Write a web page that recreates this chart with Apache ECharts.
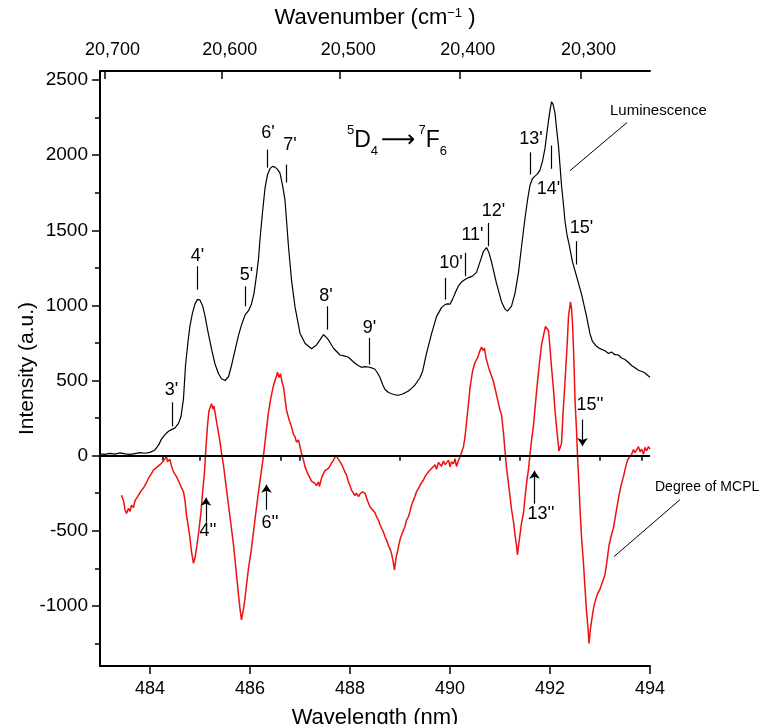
<!DOCTYPE html>
<html>
<head>
<meta charset="utf-8">
<script src="https://cdn.jsdelivr.net/npm/echarts@6/dist/echarts.min.js"></script>
<style>
  html, body { margin: 0; padding: 0; background: #fff; }
  #chart { width: 760px; height: 724px; }
</style>
</head>
<body>
<div id="chart"></div>
<script>
// Luminescence spectrum (5D4 -> 7F6), wavelength in nm
const lumWavelength = [
  483.00,483.10,483.20,483.30,483.40,483.50,483.60,483.70,483.80,483.90,
  484.00,484.10,484.17,484.23,484.30,484.37,484.44,484.50,484.57,484.62,
  484.67,484.71,484.76,484.80,484.85,484.90,484.95,485.00,485.05,485.10,
  485.15,485.23,485.30,485.37,485.43,485.50,485.57,485.63,485.70,485.77,
  485.83,485.90,485.97,486.03,486.08,486.13,486.17,486.20,486.25,486.30,
  486.35,486.40,486.45,486.50,486.55,486.60,486.65,486.70,486.77,486.83,
  486.90,487.00,487.10,487.23,487.33,487.40,487.47,487.52,487.57,487.67,
  487.80,487.90,487.97,488.05,488.10,488.17,488.23,488.30,488.37,488.45,
  488.50,488.55,488.60,488.65,488.70,488.77,488.83,488.90,488.97,489.05,
  489.10,489.17,489.23,489.30,489.33,489.40,489.45,489.53,489.63,489.73,
  489.83,489.90,489.95,490.00,490.05,490.10,490.17,490.23,490.30,490.37,
  490.45,490.53,490.60,490.67,490.73,490.78,490.83,490.93,491.03,491.10,
  491.15,491.23,491.30,491.37,491.43,491.50,491.55,491.60,491.65,491.70,
  491.75,491.80,491.85,491.90,491.95,492.00,492.03,492.06,492.10,492.13,
  492.17,492.20,492.23,492.27,492.30,492.34,492.38,492.45,492.53,492.63,
  492.73,492.80,492.85,492.93,493.00,493.10,493.17,493.23,493.30,493.37,
  493.43,493.50,493.57,493.63,493.70,493.77,493.85,493.90,493.95,494.00
];
const lumIntensity = [
  12,8,15,10,18,12,8,14,20,16,
  22,38,70,110,140,162,175,185,215,260,
  380,600,760,865,950,1010,1040,1035,1000,930,
  840,710,610,545,512,500,525,600,700,800,
  870,935,965,1010,1080,1200,1310,1440,1620,1780,
  1870,1910,1925,1920,1905,1880,1800,1700,1390,1170,
  990,815,748,712,737,770,805,790,770,715,
  670,662,655,630,615,598,588,592,590,582,
  575,550,520,475,440,420,412,405,402,410,
  418,430,448,470,482,520,560,680,810,925,
  985,1005,1010,1008,1040,1080,1130,1155,1172,1185,
  1195,1220,1290,1360,1385,1350,1290,1146,1025,975,
  962,995,1080,1220,1390,1580,1700,1800,1845,1860,
  1875,1900,1960,2045,2180,2300,2355,2340,2280,2180,
  2060,1930,1800,1670,1560,1470,1410,1290,1195,1075,
  928,810,760,728,712,698,680,690,672,670,
  650,640,620,600,585,568,558,550,535,522
];

// Degree of MCPL, same wavelength scale
const mcplWavelength = [
  483.43,483.47,483.50,483.53,483.57,483.60,483.63,483.67,483.70,483.73,
  483.77,483.80,483.83,483.87,483.90,483.93,483.97,484.00,484.03,484.07,
  484.10,484.13,484.17,484.20,484.23,484.27,484.30,484.33,484.35,484.37,
  484.40,484.43,484.47,484.50,484.53,484.57,484.60,484.63,484.67,484.70,
  484.73,484.77,484.80,484.83,484.87,484.90,484.93,484.97,485.02,485.05,
  485.09,485.12,485.15,485.18,485.21,485.23,485.26,485.28,485.31,485.35,
  485.40,485.43,485.47,485.52,485.57,485.62,485.67,485.72,485.77,485.80,
  485.83,485.87,485.90,485.93,485.97,486.02,486.07,486.12,486.17,486.22,
  486.27,486.32,486.37,486.42,486.47,486.50,486.53,486.55,486.58,486.61,
  486.64,486.67,486.70,486.73,486.78,486.83,486.87,486.90,486.93,486.97,
  487.00,487.03,487.07,487.10,487.13,487.17,487.20,487.23,487.27,487.30,
  487.33,487.37,487.39,487.43,487.47,487.50,487.53,487.57,487.60,487.63,
  487.67,487.70,487.72,487.75,487.80,487.85,487.90,487.93,487.97,488.00,
  488.03,488.07,488.10,488.13,488.17,488.20,488.25,488.30,488.35,488.40,
  488.45,488.50,488.53,488.57,488.60,488.63,488.67,488.70,488.73,488.77,
  488.80,488.83,488.86,488.89,488.92,488.95,488.97,489.00,489.03,489.07,
  489.10,489.13,489.17,489.20,489.23,489.27,489.30,489.33,489.37,489.40,
  489.43,489.47,489.50,489.53,489.57,489.60,489.63,489.67,489.70,489.73,
  489.77,489.80,489.83,489.87,489.90,489.93,489.97,490.00,490.03,490.07,
  490.10,490.13,490.17,490.20,490.23,490.27,490.30,490.35,490.40,490.45,
  490.50,490.55,490.60,490.63,490.66,490.69,490.72,490.77,490.82,490.87,
  490.92,490.97,491.00,491.03,491.07,491.10,491.13,491.17,491.20,491.23,
  491.27,491.30,491.33,491.35,491.37,491.40,491.43,491.47,491.50,491.53,
  491.57,491.60,491.63,491.67,491.71,491.75,491.79,491.83,491.87,491.91,
  491.94,491.97,492.00,492.03,492.07,492.10,492.14,492.18,492.20,492.23,
  492.26,492.30,492.34,492.37,492.41,492.43,492.45,492.48,492.50,492.53,
  492.55,492.58,492.60,492.63,492.67,492.70,492.73,492.76,492.78,492.81,
  492.85,492.88,492.91,492.95,493.00,493.05,493.10,493.14,493.18,493.22,
  493.27,493.32,493.37,493.42,493.47,493.51,493.55,493.59,493.63,493.67,
  493.70,493.73,493.77,493.80,493.83,493.87,493.90,493.93,493.97,494.00
];
const mcplDegree = [
  -263,-300,-360,-385,-350,-372,-330,-345,-300,-290,
  -263,-270,-230,-215,-197,-180,-150,-135,-120,-95,
  -105,-80,-70,-60,-64,-35,-20,-5,-40,-42,
  -25,-70,-108,-120,-140,-153,-190,-215,-241,-300,
  -396,-480,-551,-640,-717,-680,-617,-520,-374,-250,
  -108,60,201,300,325,345,310,330,268,190,
  91,20,-64,-200,-330,-460,-595,-760,-927,-1020,
  -1093,-1020,-949,-860,-750,-640,-507,-370,-241,-120,
  0,150,290,390,467,500,530,555,520,545,
  490,459,380,304,240,193,140,126,90,104,
  60,16,-30,-73,-100,-130,-140,-170,-160,-184,
  -200,-175,-206,-150,-118,-100,-110,-85,-73,-50,
  -30,-10,4,-15,-40,-70,-110,-129,-175,-200,
  -229,-250,-265,-250,-273,-255,-240,-251,-300,-340,
  -360,-380,-406,-430,-460,-473,-510,-540,-561,-600,
  -620,-650,-700,-760,-680,-640,-606,-560,-530,-495,
  -470,-430,-406,-370,-330,-295,-270,-240,-217,-200,
  -180,-162,-140,-125,-107,-120,-85,-73,-60,-90,
  -45,-40,-70,-35,-60,-51,-30,-75,-40,-55,
  -20,-73,-30,-10,-7,60,126,282,450,560,
  620,650,700,722,700,715,650,589,540,492,
  420,346,300,274,150,31,-80,-186,-270,-356,
  -440,-526,-600,-660,-600,-526,-450,-380,-280,-186,
  -90,7,100,201,350,492,620,734,800,860,
  850,831,720,589,440,298,160,31,20,80,
  280,492,720,928,1024,980,879,620,371,170,
  0,-200,-356,-540,-719,-880,-1034,-1150,-1250,-1150,
  -1058,-1000,-962,-920,-889,-840,-792,-700,-598,-540,
  -477,-380,-283,-200,-138,-80,-29,-10,7,40,
  20,31,60,25,44,10,55,31,60,44
];

// Axis ticks
const wavelengthTicks = [484, 486, 488, 490, 492, 494];
const wavelengthMinorTicks = [483, 485, 487, 489, 491, 493];
const wavenumberTicks = [20700, 20600, 20500, 20400, 20300];
const wavenumberMinorTicks = [20650, 20550, 20450, 20350, 20250];
const intensityTicks = [-1000, -500, 0, 500, 1000, 1500, 2000, 2500];
const intensityMinorTicks = [-1250, -750, -250, 250, 750, 1250, 1750, 2250];

// Luminescence band assignments: marker bar and label
const peakNames = ["3'", "4'", "5'", "6'", "7'", "8'", "9'", "10'", "11'", "12'", "13'", "14'", "15'"];
const peakWavelength = [484.44, 484.95, 485.91, 486.34, 486.72, 487.54, 488.39, 489.90, 490.31, 490.77, 491.61, 492.03, 492.53];
const peakBarTop = [355, 1260, 1127, 2037, 1937, 994, 784, 1183, 1350, 1549, 2019, 2064, 1427];
const peakBarBottom = [195, 1105, 994, 1917, 1818, 839, 606, 1039, 1194, 1394, 1871, 1909, 1272];
const peakLabelWavelength = [484.43, 484.95, 485.93, 486.36, 486.80, 487.52, 488.39, 490.02, 490.45, 490.87, 491.62, 491.97, 492.63];
const peakLabelValue = [440, 1327, 1205, 2144, 2064, 1061, 850, 1283, 1465, 1626, 2108, 1775, 1516];

// MCPL band assignments: arrow and label
const arrowNames = ["4''", "6''", "13''", "15''"];
const arrowWavelength = [485.12, 486.33, 491.69, 492.65];
const arrowTail = [-446, -360, -320, 240];
const arrowHead = [-280, -193, -100, 65];
const arrowLabelWavelength = [485.16, 486.40, 491.82, 492.80];
const arrowLabelValue = [-503, -448, -390, 335];

const FONT = 'Liberation Sans, Arial, Helvetica, sans-serif';
const zip = (xs, ys) => xs.map((x, i) => [x, ys[i]]);
const nmFromWavenumber = w => 1e7 / w;

const chart = echarts.init(document.getElementById('chart'), null, { renderer: 'canvas' });

const baseAxis = {
  type: 'value', min: 483, max: 494,
  splitLine: { show: false },
  axisLine: { show: false }
};

const option = {
  backgroundColor: '#ffffff',
  animation: false,
  grid: { left: 100, right: 110, top: 71, bottom: 58, containLabel: false, outerBoundsMode: 'none' },
  xAxis: [
    Object.assign({}, baseAxis, {
      position: 'bottom',
      name: 'Wavelength (nm)', nameLocation: 'middle', nameGap: 41, nameMoveOverlap: false,
      nameTextStyle: { fontFamily: FONT, fontSize: 22, color: '#000' },
      axisLine: { show: true, onZero: false, lineStyle: { color: '#000', width: 2 } },
      axisTick: { show: true, length: 8, customValues: wavelengthTicks, lineStyle: { color: '#000', width: 1.5 } },
      axisLabel: { show: true, customValues: wavelengthTicks, margin: 14, fontFamily: FONT, fontSize: 18, color: '#000',
        formatter: v => String(v) }
    }),
    Object.assign({}, baseAxis, {
      position: 'top',
      name: 'Wavenumber (cm{sup|−1} )', nameLocation: 'middle', nameGap: 42, nameMoveOverlap: false,
      nameTextStyle: { fontFamily: FONT, fontSize: 22, color: '#000',
        rich: { sup: { fontFamily: FONT, fontSize: 13, verticalAlign: 'top', color: '#000' } } },
      axisLine: { show: true, onZero: false, lineStyle: { color: '#000', width: 2 } },
      axisTick: { show: true, inside: true, length: 8, customValues: wavenumberTicks.map(nmFromWavenumber), lineStyle: { color: '#000', width: 1.5 } },
      axisLabel: { show: true, customValues: wavenumberTicks.map(nmFromWavenumber), margin: 12,
        padding: [0, 0, 0, 16], fontFamily: FONT, fontSize: 18, color: '#000',
        formatter: v => (Math.round(1e7 / v / 10) * 10).toLocaleString('en-US') }
    }),
    Object.assign({}, baseAxis, {
      position: 'bottom',
      axisTick: { show: true, length: 5, customValues: wavelengthMinorTicks, lineStyle: { color: '#000', width: 1.5 } },
      axisLabel: { show: false }
    }),
    Object.assign({}, baseAxis, {
      position: 'top',
      axisTick: { show: true, inside: true, length: 5, customValues: wavenumberMinorTicks.map(nmFromWavenumber), lineStyle: { color: '#000', width: 1.5 } },
      axisLabel: { show: false }
    })
  ],
  yAxis: [
    {
      type: 'value', min: -1400, max: 2560, position: 'left',
      name: 'Intensity (a.u.)', nameLocation: 'middle', nameGap: 62, nameRotate: 90, nameMoveOverlap: false,
      nameTextStyle: { fontFamily: FONT, fontSize: 21, color: '#000' },
      splitLine: { show: false },
      axisLine: { show: true, onZero: false, lineStyle: { color: '#000', width: 2 } },
      axisTick: { show: true, length: 8, customValues: intensityTicks, lineStyle: { color: '#000', width: 1.5 } },
      axisLabel: { show: true, customValues: intensityTicks, margin: 12, fontFamily: FONT, fontSize: 19, color: '#000',
        formatter: v => String(v) }
    },
    {
      type: 'value', min: -1400, max: 2560, position: 'left',
      splitLine: { show: false },
      axisLine: { show: false },
      axisTick: { show: true, length: 5, customValues: intensityMinorTicks, lineStyle: { color: '#000', width: 1.5 } },
      axisLabel: { show: false }
    }
  ],
  series: [
    {
      name: 'Luminescence',
      type: 'line',
      xAxisIndex: 0, yAxisIndex: 0,
      data: zip(lumWavelength, lumIntensity),
      showSymbol: false, smooth: false,
      lineStyle: { color: '#000', width: 1.2 },
      silent: true,
      z: 3,
      markLine: {
        silent: true, symbol: 'none', animation: false,
        label: { show: false },
        lineStyle: { color: '#000', width: 1.2, type: 'solid' },
        data: [{ yAxis: 0, lineStyle: { color: '#000', width: 2 } }].concat(
          peakNames.map((n, i) => [
            { coord: [peakWavelength[i], peakBarTop[i]] },
            { coord: [peakWavelength[i], peakBarBottom[i]] }
          ]))
      },
      markPoint: {
        silent: true, symbol: 'circle', symbolSize: 0, animation: false,
        label: { show: true, position: 'inside', formatter: p => p.name,
          fontFamily: FONT, fontSize: 18, color: '#000' },
        data: peakNames.map((n, i) => ({ name: n, coord: [peakLabelWavelength[i], peakLabelValue[i]] }))
      }
    },
    {
      name: 'Degree of MCPL',
      type: 'line',
      xAxisIndex: 0, yAxisIndex: 0,
      data: zip(mcplWavelength, mcplDegree),
      showSymbol: false, smooth: false,
      lineStyle: { color: '#ee1111', width: 1.5 },
      silent: true,
      z: 2,
      markLine: {
        silent: true, symbol: ['none', 'arrow'], symbolSize: 8, animation: false,
        label: { show: false },
        lineStyle: { color: '#000', width: 1.2, type: 'solid' },
        data: arrowNames.map((n, i) => [
          { coord: [arrowWavelength[i], arrowTail[i]] },
          { coord: [arrowWavelength[i], arrowHead[i]] }
        ])
      },
      markPoint: {
        silent: true, symbol: 'circle', symbolSize: 0, animation: false,
        label: { show: true, position: 'inside', formatter: p => p.name,
          fontFamily: FONT, fontSize: 18, color: '#000' },
        data: arrowNames.map((n, i) => ({ name: n, coord: [arrowLabelWavelength[i], arrowLabelValue[i]] }))
      }
    }
  ]
};

chart.setOption(option);

// Curve captions with leader lines, placed in data space
const captions = [
  { text: 'Luminescence', size: 15, at: [493.20, 2290], from: [492.40, 1897], to: [493.54, 2217] },
  { text: 'Degree of MCPL', size: 14, at: [494.10, -213], from: [493.28, -672], to: [494.60, -293] }
];
const px = c => chart.convertToPixel({ xAxisIndex: 0, yAxisIndex: 0 }, c);

const graphics = [];
captions.forEach(c => {
  const a = px(c.at), f = px(c.from), t = px(c.to);
  graphics.push({
    type: 'text', left: a[0], top: a[1] - 8,
    style: { text: c.text, font: c.size + 'px ' + FONT, fill: '#000' }
  });
  graphics.push({
    type: 'line', shape: { x1: f[0], y1: f[1], x2: t[0], y2: t[1] },
    style: { stroke: '#000', lineWidth: 1 }
  });
});

// Transition label 5D4 -> 7F6
graphics.push({
  type: 'text', left: 347, top: 124,
  style: {
    text: '{sup|5}{big|D}{sub|4}{arr|⟶}{sup|7}{big|F}{sub|6}',
    rich: {
      sup: { fontFamily: FONT, fontSize: 13, verticalAlign: 'top', lineHeight: 34, fill: '#000' },
      big: { fontFamily: FONT, fontSize: 23, lineHeight: 34, fill: '#000' },
      sub: { fontFamily: FONT, fontSize: 13, verticalAlign: 'bottom', lineHeight: 34, fill: '#000' },
      arr: { fontFamily: 'DejaVu Sans', fontSize: 24, lineHeight: 34, fill: '#000', padding: [0, 3, 0, 3] }
    }
  }
});

chart.setOption({ graphic: graphics });
</script>
</body>
</html>
